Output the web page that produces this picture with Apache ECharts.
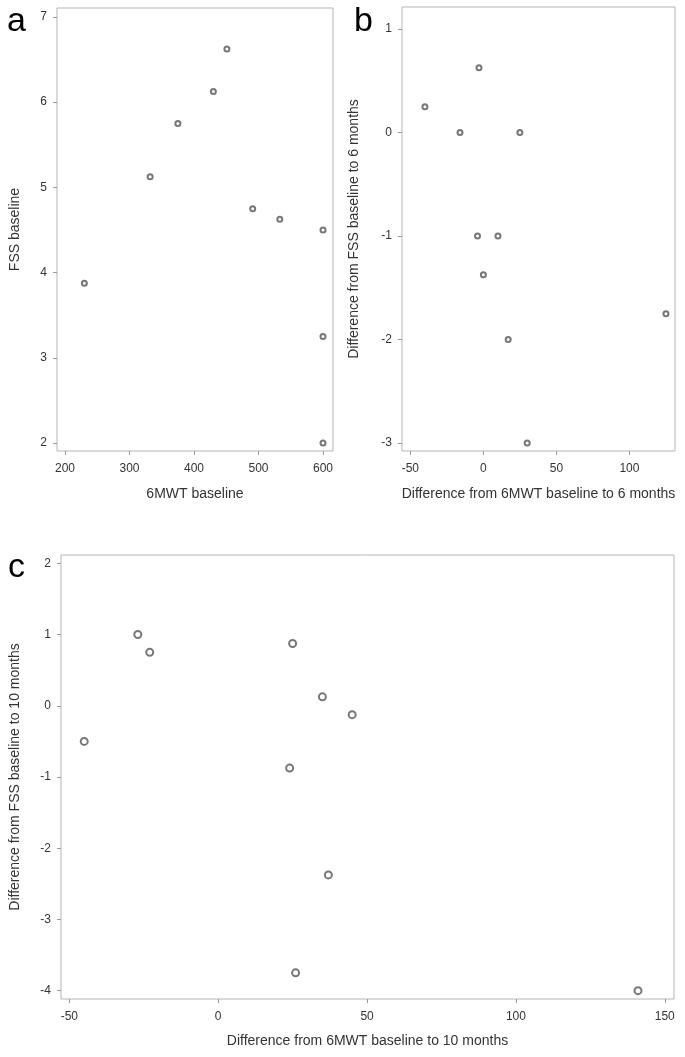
<!DOCTYPE html>
<html>
<head>
<meta charset="utf-8">
<script src="https://cdn.jsdelivr.net/npm/echarts@6/dist/echarts.min.js"></script>
<style>
html,body{margin:0;padding:0;background:#fff;}
#chart{width:685px;height:1057px;}
</style>
</head>
<body>
<div id="chart"></div>
<script>
// Panel a: 6MWT baseline vs FSS baseline
var aX = [451, 430, 375, 332, 491, 533, 600, 230, 600, 600];
var aY = [6.625, 6.125, 5.75, 5.125, 4.75, 4.625, 4.5, 3.875, 3.25, 2.0];
// Panel b: change to 6 months
var bX = [-40, -3, -16, 25, -4, 10, 0, 17, 30, 125];
var bY = [0.25, 0.625, 0, 0, -1, -1, -1.375, -2, -3, -1.75];
// Panel c: change to 10 months
var cX = [-45, -27, -23, 25, 35, 45, 24, 37, 26, 141];
var cY = [-0.5, 1, 0.75, 0.875, 0.125, -0.125, -0.875, -2.375, -3.75, -4];

var aXTicks = [200, 300, 400, 500, 600];
var aYTicks = [2, 3, 4, 5, 6, 7];
var bXTicks = [-50, 0, 50, 100];
var bYTicks = [-3, -2, -1, 0, 1];
var cXTicks = [-50, 0, 50, 100, 150];
var cYTicks = [-4, -3, -2, -1, 0, 1, 2];

var labels = {
  aX: '6MWT baseline', aY: 'FSS baseline',
  bX: 'Difference from 6MWT baseline to 6 months', bY: 'Difference from FSS baseline to 6 months',
  cX: 'Difference from 6MWT baseline to 10 months', cY: 'Difference from FSS baseline to 10 months'
};

function pairs(xs, ys){ return xs.map(function(x,i){ return [x, ys[i]]; }); }

var FONT = 'Liberation Sans, Arial, sans-serif';
var TXT = '#333';
var TICK = '#999';

function xAxis(idx, min, max, ticks, name, gap){
  return {
    type: 'value', gridIndex: idx, min: min, max: max, position: 'bottom',
    name: name, nameLocation: 'middle', nameGap: gap,
    nameTextStyle: {color: TXT, fontSize: 14, fontFamily: FONT},
    axisLine: {show: false, onZero: false},
    axisTick: {show: true, length: 4, lineStyle: {color: TICK}, customValues: ticks},
    axisLabel: {color: TXT, fontSize: 12, fontFamily: FONT, margin: 12, customValues: ticks},
    splitLine: {show: false}
  };
}
function yAxis(idx, min, max, ticks, name, gap){
  return {
    type: 'value', gridIndex: idx, min: min, max: max, position: 'left',
    name: name, nameLocation: 'middle', nameGap: gap,
    nameTextStyle: {color: TXT, fontSize: 14, fontFamily: FONT},
    axisLine: {show: false, onZero: false},
    axisTick: {show: true, length: 4, lineStyle: {color: TICK}, customValues: ticks},
    axisLabel: {color: TXT, fontSize: 12, fontFamily: FONT, margin: 10, customValues: ticks},
    splitLine: {show: false}
  };
}
function scatter(idx, data, size){
  return {
    type: 'scatter', xAxisIndex: idx, yAxisIndex: idx, data: data,
    symbol: 'emptyCircle', symbolSize: size,
    itemStyle: {color: '#555', borderColor: '#555', borderWidth: 1.4},
    silent: true
  };
}

var gridStyle = {show: true, borderColor: '#b5b5b5', borderWidth: 1, backgroundColor: '#fff'};

var chart = echarts.init(document.getElementById('chart'), null, {renderer: 'canvas'});
chart.setOption({
  animation: false,
  backgroundColor: '#fff',
  grid: [
    Object.assign({left: 57, top: 8, width: 276, height: 443}, gridStyle),
    Object.assign({left: 402, top: 7, width: 273, height: 444}, gridStyle),
    Object.assign({left: 61, top: 555, width: 613, height: 444}, gridStyle)
  ],
  xAxis: [
    xAxis(0, 187.6, 615.5, aXTicks, labels.aX, 36),
    xAxis(1, -55.7, 131.2, bXTicks, labels.bX, 36),
    xAxis(2, -52.8, 153.1, cXTicks, labels.cX, 35)
  ],
  yAxis: [
    yAxis(0, 1.906, 7.105, aYTicks, labels.aY, 35),
    yAxis(1, -3.077, 1.213, bYTicks, labels.bY, 41),
    yAxis(2, -4.117, 2.117, cYTicks, labels.cY, 39)
  ],
  series: [
    scatter(0, pairs(aX, aY), 5),
    scatter(1, pairs(bX, bY), 5),
    scatter(2, pairs(cX, cY), 7)
  ],
  graphic: [
    {type: 'text', left: 7, top: 5, style: {text: 'a', fontSize: 34, fontFamily: FONT, fill: '#000'}},
    {type: 'text', left: 354, top: 5, style: {text: 'b', fontSize: 34, fontFamily: FONT, fill: '#000'}},
    {type: 'text', left: 8, top: 551, style: {text: 'c', fontSize: 34, fontFamily: FONT, fill: '#000'}}
  ]
});
</script>
</body>
</html>
